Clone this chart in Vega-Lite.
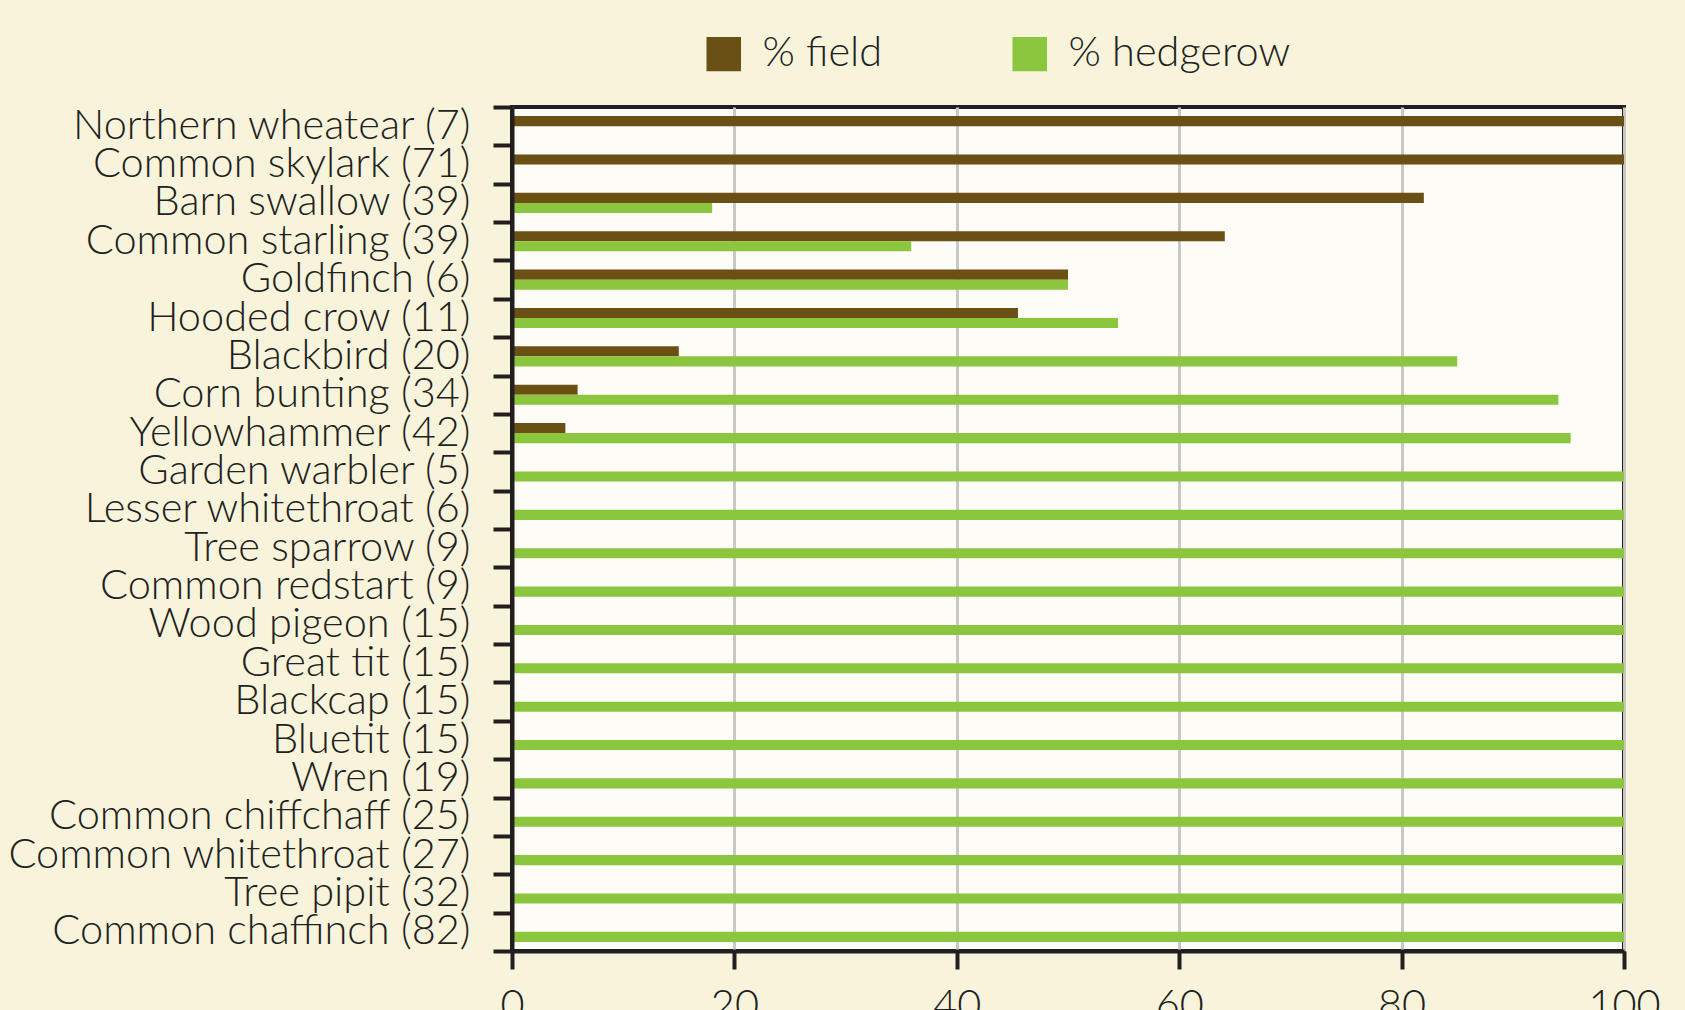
{
  "$schema": "https://vega.github.io/schema/vega-lite/v6.json",
  "autosize": {"type": "none"},
  "padding": {"left": 512, "top": 107, "right": 61, "bottom": 59},
  "width": 1112,
  "height": 844,
  "background": "#f8f4dc",
  "config": {
    "view": {"fill": "#fdfcf6", "stroke": "#231f20", "strokeWidth": 4},
    "font": "Lato"
  },
  "data": {
    "values": [
      {"species": "Northern wheatear (7)", "type": "% field", "value": 100},
      {"species": "Common skylark (71)", "type": "% field", "value": 100},
      {"species": "Barn swallow (39)", "type": "% field", "value": 82},
      {"species": "Barn swallow (39)", "type": "% hedgerow", "value": 18},
      {"species": "Common starling (39)", "type": "% field", "value": 64.1},
      {"species": "Common starling (39)", "type": "% hedgerow", "value": 35.9},
      {"species": "Goldfinch (6)", "type": "% field", "value": 50},
      {"species": "Goldfinch (6)", "type": "% hedgerow", "value": 50},
      {"species": "Hooded crow (11)", "type": "% field", "value": 45.5},
      {"species": "Hooded crow (11)", "type": "% hedgerow", "value": 54.5},
      {"species": "Blackbird (20)", "type": "% field", "value": 15},
      {"species": "Blackbird (20)", "type": "% hedgerow", "value": 85},
      {"species": "Corn bunting (34)", "type": "% field", "value": 5.9},
      {"species": "Corn bunting (34)", "type": "% hedgerow", "value": 94.1},
      {"species": "Yellowhammer (42)", "type": "% field", "value": 4.8},
      {"species": "Yellowhammer (42)", "type": "% hedgerow", "value": 95.2},
      {"species": "Garden warbler (5)", "type": "% hedgerow", "value": 100},
      {"species": "Lesser whitethroat (6)", "type": "% hedgerow", "value": 100},
      {"species": "Tree sparrow (9)", "type": "% hedgerow", "value": 100},
      {"species": "Common redstart (9)", "type": "% hedgerow", "value": 100},
      {"species": "Wood pigeon (15)", "type": "% hedgerow", "value": 100},
      {"species": "Great tit (15)", "type": "% hedgerow", "value": 100},
      {"species": "Blackcap (15)", "type": "% hedgerow", "value": 100},
      {"species": "Bluetit (15)", "type": "% hedgerow", "value": 100},
      {"species": "Wren (19)", "type": "% hedgerow", "value": 100},
      {"species": "Common chiffchaff (25)", "type": "% hedgerow", "value": 100},
      {"species": "Common whitethroat (27)", "type": "% hedgerow", "value": 100},
      {"species": "Tree pipit (32)", "type": "% hedgerow", "value": 100},
      {"species": "Common chaffinch (82)", "type": "% hedgerow", "value": 100}
    ]
  },
  "mark": {"type": "bar", "cornerRadius": 0},
  "encoding": {
    "y": {
      "field": "species",
      "type": "nominal",
      "sort": null,
      "scale": {"paddingInner": 0, "paddingOuter": 0},
      "axis": {
        "title": null,
        "tickBand": "extent",
        "ticks": true,
        "tickSize": 19,
        "tickWidth": 4,
        "tickColor": "#231f20",
        "domain": true,
        "domainColor": "#231f20",
        "domainWidth": 4,
        "grid": false,
        "labelFont": "Lato",
        "labelFontWeight": 300,
        "labelFontSize": 41.5,
        "labelColor": "#231f20",
        "labelPadding": 23,
        "labelLimit": 600,
        "zindex": 1
      }
    },
    "yOffset": {
      "field": "type",
      "type": "nominal",
      "scale": {"domain": ["% field", "% hedgerow"], "paddingInner": 0, "paddingOuter": 0.9}
    },
    "x": {
      "field": "value",
      "type": "quantitative",
      "scale": {"domain": [0, 100], "nice": false},
      "axis": {
        "title": null,
        "values": [0, 20, 40, 60, 80, 100],
        "grid": true,
        "gridColor": "#c8c8c8",
        "gridWidth": 3,
        "ticks": true,
        "tickSize": 18,
        "tickWidth": 4,
        "tickColor": "#231f20",
        "domain": true,
        "domainColor": "#231f20",
        "domainWidth": 4,
        "labelFont": "Lato",
        "labelFontWeight": 300,
        "labelFontSize": 41.5,
        "labelColor": "#231f20",
        "labelPadding": 16,
        "labelFlush": false
      }
    },
    "color": {
      "field": "type",
      "type": "nominal",
      "scale": {"domain": ["% field", "% hedgerow"], "range": ["#6b5015", "#8cc63f"]},
      "legend": {
        "title": null,
        "orient": "none",
        "legendX": 191,
        "legendY": -74,
        "direction": "horizontal",
        "columns": 2,
        "padding": 0,
        "symbolType": "square",
        "symbolSize": 1190,
        "symbolStrokeWidth": 0,
        "symbolOpacity": 1,
        "labelFont": "Lato",
        "labelFontWeight": 300,
        "labelFontSize": 41.5,
        "labelColor": "#231f20",
        "labelOffset": 18,
        "labelLimit": 400,
        "columnPadding": 126
      }
    }
  }
}
